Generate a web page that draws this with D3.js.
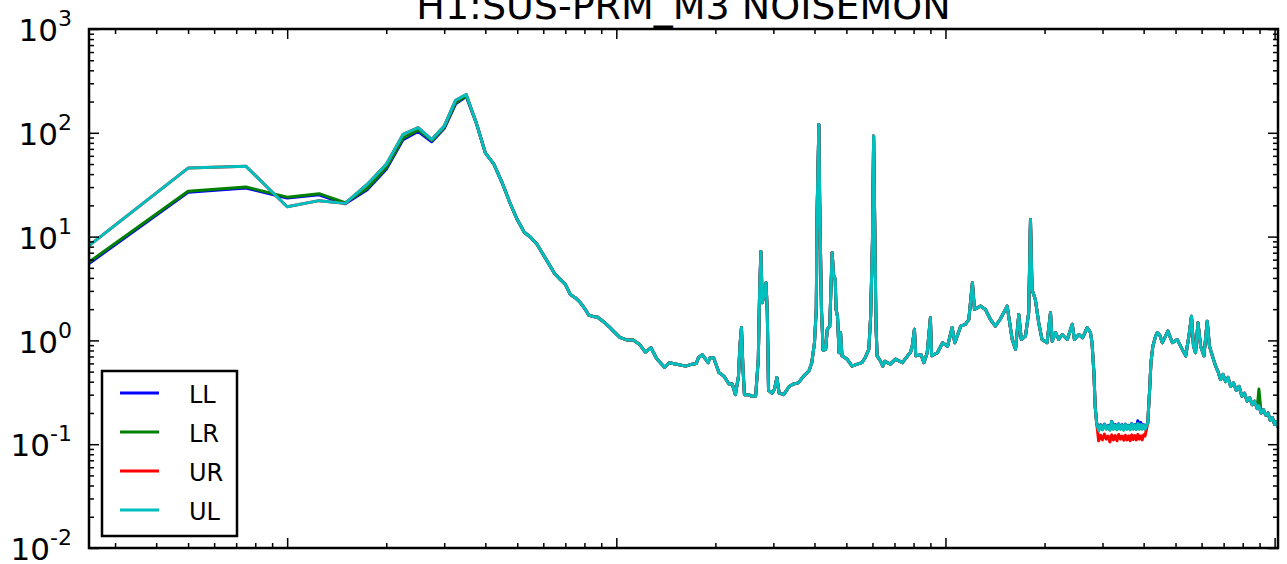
<!DOCTYPE html>
<html><head><meta charset="utf-8">
<script src="https://cdn.jsdelivr.net/npm/d3@7/dist/d3.min.js"></script>
<style>
body{margin:0;background:#fff}
svg{display:block}
text{font-family:"DejaVu Sans",sans-serif;fill:#000}
</style>
</head><body>
<svg id="chart" width="1287" height="564"></svg>
<script>
// ---------------- data ----------------
const title = "H1:SUS-PRM_M3 NOISEMON";
const seriesNames = ["LL", "LR", "UR", "UL"];
const seriesColors = ["#0000ff", "#008000", "#ff0000", "#00bfbf"];

// frequency (Hz)
const freq = [
  0.25,0.5,0.75,1.0,1.25,1.5,1.75,2.0,2.25,2.5,2.75,3.0,3.25,3.5,3.75,4.0,4.25,4.5,4.75,5.0,
  5.25,5.5,5.75,6.0,6.25,6.5,6.75,7.0,7.25,7.5,7.75,8.0,8.25,8.5,8.75,9.0,9.25,9.5,9.75,10.25,
  10.75,11.25,11.75,12.25,12.75,13.25,14.0,14.5,15.25,16.25,17.0,17.5,17.75,18.25,19.0,19.25,19.75,20.5,21.25,22.0,
  22.5,23.0,23.5,23.75,24.0,24.25,24.5,25.25,25.75,26.5,27.0,27.25,27.5,27.75,28.0,28.5,28.75,29.0,29.75,30.25,
  30.75,31.25,32.25,33.5,34.5,35.75,37.0,38.5,39.25,40.0,40.5,40.75,41.25,41.5,42.0,42.5,43.25,43.75,44.5,45.25,
  45.75,46.25,46.5,47.0,47.5,48.0,48.5,50.25,52.0,54.0,55.75,57.0,58.5,59.25,60.0,60.5,61.0,61.5,62.0,63.5,
  64.5,65.5,68.0,70.5,74.0,77.25,78.25,79.25,80.5,81.25,84.25,86.0,88.0,90.0,90.75,94.5,98.0,101.5,104.75,106.75,
  111.25,115.0,117.75,120.75,122.5,127.75,132.25,137.0,141.75,146.5,154.0,159.5,163.25,167.0,170.0,175.0,179.0,181.25,183.25,187.5,
  192.0,196.5,203.5,208.5,211.0,216.0,220.75,226.25,234.5,242.75,246.5,254.25,261.0,269.5,275.75,278.75,282.5,285.0,288.0,
  292,296,300,304,308,312,316,320,324,328,332,336,340,344,348,352,356,360,364,368,372,376,380,384,388,392,396,400,404,
  411.7,417.3,421,426.7,435,440,448,456,474,489,506,524,537,549,559,567,575,585,596,610,624,634,647,662,673,685,
  697,710,722,735,750,765,780,795,810,825,840,855,870,885,896,910,925,940,955,970,985,1000,1012,1024
];

// UL amplitude (top-most trace)
const UL = [
  8.2,45.7,47.5,19.4,22.2,20.9,31.8,49.6,96.6,112,86,116,206,234,126,64,49.6,33,21.2,14.6,
  11,9.8,8.4,6.7,5.4,4.39,3.87,3.46,2.77,2.58,2.34,2.05,1.75,1.7,1.68,1.57,1.47,1.36,1.25,1.07,
  1.01,1.01,0.92,0.77,0.85,0.67,0.55,0.61,0.59,0.565,0.59,0.6,0.68,0.73,0.61,0.68,0.68,0.49,0.45,0.38,
  0.38,0.3,0.45,0.9,1.33,0.55,0.3,0.3,0.29,0.29,0.66,3.0,7.2,2.3,2.6,3.6,1.9,0.33,0.31,0.34,
  0.44,0.31,0.3,0.36,0.38,0.39,0.45,0.51,0.61,0.95,2.0,18,120,20,2.0,0.8,0.82,1.28,1.37,7.0,
  4.2,3.9,2.0,1.7,0.76,1.19,0.71,0.66,0.565,0.59,0.61,0.68,0.82,1.71,9,93,12,1.4,0.71,0.63,
  0.565,0.63,0.59,0.66,0.61,0.73,0.76,0.88,1.28,0.71,0.73,0.61,0.76,1.65,0.71,0.76,0.95,0.88,1.33,0.95,
  1.37,1.43,1.59,3.6,1.99,2.14,1.99,1.59,1.37,1.59,2.14,1.02,0.82,1.78,1.02,1.10,1.85,14.6,3.1,2.48,
  1.48,1.02,0.95,1.85,0.98,1.19,1.02,1.14,1.02,1.43,1.02,1.14,1.06,1.33,1.19,0.95,0.49,0.23,0.16,
  0.135,0.152,0.138,0.155,0.14,0.15,0.137,0.165,0.14,0.153,0.138,0.156,0.14,0.152,0.137,0.155,0.14,0.15,0.138,0.156,0.14,0.152,0.139,0.158,0.14,0.155,0.14,0.152,0.14,
  0.16,0.34,0.61,0.88,1.10,1.19,1.12,0.95,1.23,0.95,1.02,0.82,0.71,1.10,1.71,0.88,0.76,1.48,0.88,0.71,1.53,0.88,0.71,0.565,0.5,0.42,
  0.47,0.40,0.44,0.36,0.39,0.33,0.36,0.29,0.31,0.26,0.28,0.24,0.26,0.22,0.235,0.2,0.215,0.19,0.2,0.17,0.18,0.155,0.165,0.145
];

// where the other channels differ from UL
const LL_low = [5.5,26.8,29.4,23.5,25.3,20.7,28.3,44.5,86,103,82,110,190,224];
const LR_low = [5.68,27.4,30.0,24.0,25.9,21.2,29,46,89,106,84,112,195,228];
const bandStart = 292;
const UR_band = [0.108,0.122,0.11,0.125,0.112,0.12,0.105,0.123,0.11,0.121,0.108,0.124,0.112,0.12,0.109,0.122,0.11,0.12,0.108,0.123,0.111,0.121,0.11,0.124,0.112,0.12,0.11,0.123,0.12];
const LL_band = [0.137,0.154,0.14,0.156,0.142,0.152,0.139,0.166,0.142,0.155,0.14,0.157,0.142,0.154,0.139,0.156,0.142,0.152,0.14,0.158,0.142,0.154,0.141,0.168,0.142,0.162,0.142,0.154,0.142];
const LR_spikeFreq = 896, LR_spikeVal = 0.34;

const xMajor = [1, 10, 100, 1000];
const xMinor = [0.3,0.4,0.5,0.6,0.7,0.8,0.9,2,3,4,5,6,7,8,9,20,30,40,50,60,70,80,90,200,300,400,500,600,700,800,900];
const yMajor = [1e-2, 1e-1, 1e0, 1e1, 1e2, 1e3];
const yExp = ["-2", "-1", "0", "1", "2", "3"];
const yMinor = [];
[0.01, 0.1, 1, 10, 100].forEach(d => [2,3,4,5,6,7,8,9].forEach(m => yMinor.push(+(d*m).toPrecision(3))));

// ---------------- build series ----------------
const bIdx = freq.indexOf(bandStart);
const LL = UL.slice(), LR = UL.slice(), UR = UL.slice();
LL_low.forEach((v,i) => LL[i] = v);
LR_low.forEach((v,i) => LR[i] = v);
UR_band.forEach((v,i) => UR[bIdx+i] = v);
LL_band.forEach((v,i) => LL[bIdx+i] = v);
LR[freq.indexOf(LR_spikeFreq)] = LR_spikeVal;
const seriesValues = [LL, LR, UR, UL];

// ---------------- layout ----------------
const L = 89, R = 1278, T = 29, B = 548;
const svg = d3.select("#chart");
const x = d3.scaleLog().domain([0.25, 1024]).range([L, R]);
const y = d3.scaleLog().domain([0.01, 1000]).range([B, T]);

svg.append("defs").append("clipPath").attr("id","clip")
  .append("rect").attr("x",L).attr("y",T).attr("width",R-L).attr("height",B-T);

// lines
const line = d3.line().x(d => x(d[0])).y(d => y(d[1]));
const g = svg.append("g").attr("clip-path","url(#clip)");
seriesValues.forEach((vals, k) => {
  g.append("path")
    .datum(freq.map((f,i) => [f, vals[i]]))
    .attr("d", line)
    .attr("fill","none")
    .attr("stroke", seriesColors[k])
    .attr("stroke-width", 3)
    .attr("stroke-linejoin","round");
});

// axes (ticks inside, on all four sides)
function addAxis(axis, tx, ty, vals, size, fmt) {
  const a = svg.append("g").attr("transform",`translate(${tx},${ty})`)
    .call(axis.tickValues(vals).tickSize(-size).tickFormat(fmt || (() => "")));
  a.select(".domain").remove();
  a.selectAll(".tick line").attr("stroke","#000").attr("stroke-width",1.5);
  return a;
}
addAxis(d3.axisBottom(x), 0, B, xMajor, 10);
addAxis(d3.axisBottom(x), 0, B, xMinor, 5);
addAxis(d3.axisTop(x), 0, T, xMajor, 10);
addAxis(d3.axisTop(x), 0, T, xMinor, 5);
addAxis(d3.axisRight(y), R, 0, yMajor, 10);
addAxis(d3.axisRight(y), R, 0, yMinor, 5);
addAxis(d3.axisLeft(y), L, 0, yMinor, 5);
const yl = addAxis(d3.axisLeft(y).tickPadding(17), L, 0, yMajor, 10, () => "");
yl.selectAll(".tick text").each(function(d, i) {
  const t = d3.select(this).attr("dy", "0.38em").attr("font-size", 31)
    .attr("font-family", '"DejaVu Sans",sans-serif').attr("fill","#000");
  t.append("tspan").text("10");
  t.append("tspan").attr("dy", -15).attr("font-size", 22).text(yExp[i]);
});

// frame
svg.append("rect").attr("x",L).attr("y",T).attr("width",R-L).attr("height",B-T)
  .attr("fill","none").attr("stroke","#000").attr("stroke-width",2.5);

// title
svg.append("text").attr("x",(L+R)/2).attr("y",19).attr("text-anchor","middle")
  .attr("font-size",38).text(title);

// legend
const lg = svg.append("g");
lg.append("rect").attr("x",102).attr("y",371).attr("width",135).attr("height",165)
  .attr("fill","#fff").attr("stroke","#000").attr("stroke-width",2.5);
seriesNames.forEach((n,i) => {
  const yy = 393 + i*39;
  lg.append("line").attr("x1",120).attr("x2",159).attr("y1",yy).attr("y2",yy)
    .attr("stroke",seriesColors[i]).attr("stroke-width",3);
  lg.append("text").attr("x",189).attr("y",yy+9.5).attr("font-size",24).text(n);
});
</script>
</body></html>
